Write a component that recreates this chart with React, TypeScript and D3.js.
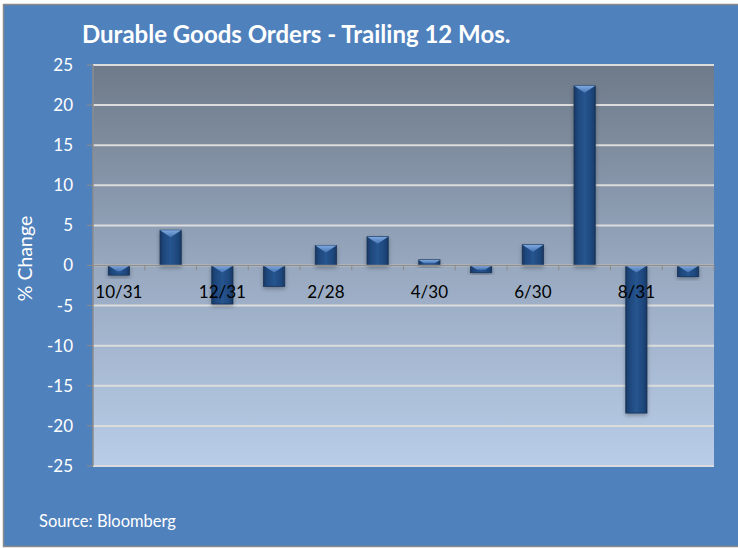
import React from 'react';
import {scaleBand, scaleLinear} from 'd3';

// month-end dates, trailing 12 months
const months = ['10/31', '11/30', '12/31', '1/31', '2/28', '3/31', '4/30', '5/31', '6/30', '7/31', '8/31', '9/30'];
const pctChange = [-1.2, 4.4, -4.8, -2.6, 2.5, 3.6, 0.7, -0.9, 2.6, 22.4, -18.4, -1.4];
const yTicks = [25, 20, 15, 10, 5, 0, -5, -10, -15, -20, -25];
const shownLabels = ['10/31', '12/31', '2/28', '4/30', '6/30', '8/31'];

const width = 738;
const height = 548;
const plot = {left: 93, right: 714, top: 65, bottom: 466};
const font = 'Lato, "Open Sans", sans-serif';

export default function App() {
    const x = scaleBand()
        .domain(months)
        .range([plot.left, plot.right])
        .paddingInner(0.59)
        .paddingOuter(0.295);

    const y = scaleLinear()
        .domain([-25, 25])
        .range([plot.bottom, plot.top]);

    const y0 = y(0);
    const step = x.step();

    return (
        <svg width={width} height={height} style={{position: 'absolute', left: 0, top: 0}}>
            <defs>
                <linearGradient id="plotBg" x1="0" y1="0" x2="0" y2="1">
                    <stop offset="0" stopColor="#6e7a89" />
                    <stop offset="0.5" stopColor="#97a8bf" />
                    <stop offset="1" stopColor="#b9cde8" />
                </linearGradient>
                <linearGradient id="barBody" x1="0" y1="0" x2="1" y2="0">
                    <stop offset="0" stopColor="#183660" />
                    <stop offset="0.15" stopColor="#1e467b" />
                    <stop offset="0.5" stopColor="#26558f" />
                    <stop offset="0.85" stopColor="#1e467b" />
                    <stop offset="1" stopColor="#183660" />
                </linearGradient>
                <linearGradient id="barCap" x1="0" y1="0" x2="0" y2="1">
                    <stop offset="0" stopColor="#7fa9e0" />
                    <stop offset="1" stopColor="#4775b4" />
                </linearGradient>
                <filter id="shadow" x="-30%" y="-30%" width="160%" height="160%">
                    <feDropShadow dx="0" dy="2" stdDeviation="2" floodColor="#000" floodOpacity="0.3" />
                </filter>
            </defs>

            <rect x={0} y={0} width={width} height={height} fill="#ffffff" />
            <rect x={3.5} y={4.5} width={width} height={height - 6} fill="#4f81bd" stroke="#8a8a8a" strokeWidth={1.5} />

            <text x={82} y={43} fill="#fff" fontFamily={font} fontWeight="bold" fontSize={24}>
                Durable Goods Orders - Trailing 12 Mos.
            </text>

            <rect x={plot.left} y={plot.top} width={plot.right - plot.left} height={plot.bottom - plot.top} fill="url(#plotBg)" />

            {yTicks.map(t => (
                <g key={t}>
                    <line x1={plot.left} x2={plot.right} y1={y(t)} y2={y(t)} stroke="#dcdcdc" strokeWidth={2} />
                    <line x1={plot.left - 6} x2={plot.left} y1={y(t)} y2={y(t)} stroke="#8c8c8c" strokeWidth={1} />
                    <text x={73} y={y(t)} dy="0.35em" textAnchor="end" fill="#fff" fontFamily={font} fontSize={17}>
                        {t}
                    </text>
                </g>
            ))}
            <line x1={plot.left} x2={plot.left} y1={plot.top} y2={plot.bottom} stroke="#8c8c8c" strokeWidth={1.5} />

            {months.map((m, i) => {
                const v = pctChange[i];
                const bx = x(m) as number;
                const w = x.bandwidth();
                const top = v >= 0 ? y(v) : y0;
                const h = Math.abs(y(v) - y0);
                const D = w * 0.33;
                const d = Math.min(D, h * 0.6);
                const hw = (w / 2) * (1 - d / D);
                const cx = bx + w / 2;
                const cap = `M${bx},${top}L${bx + w},${top}L${cx + hw},${top + d}L${cx - hw},${top + d}Z`;
                return (
                    <g key={m}>
                        <rect x={bx} y={top} width={w} height={h} fill="url(#barBody)" stroke="#163156" strokeWidth={0.8} filter="url(#shadow)" />
                        <path d={cap} fill="url(#barCap)" />
                    </g>
                );
            })}

            <line x1={plot.left} x2={plot.right} y1={y0} y2={y0} stroke="#8c8c8c" strokeWidth={1.5} />
            {months.map((m, i) => (
                <line key={m} x1={plot.left + step * (i + 1)} x2={plot.left + step * (i + 1)} y1={y0} y2={y0 + 5} stroke="#8c8c8c" strokeWidth={1} />
            ))}

            {shownLabels.map(m => (
                <text key={m} x={(x(m) as number) + x.bandwidth() / 2} y={y0 + 32} textAnchor="middle" fill="#000" fontFamily={font} fontSize={17}>
                    {m}
                </text>
            ))}

            <text transform={`translate(32,${y0 - 7}) rotate(-90)`} textAnchor="middle" fill="#fff" fontFamily={font} fontSize={19.5}>
                % Change
            </text>

            <text x={39} y={527} fill="#fff" fontFamily={font} fontSize={16.5}>
                Source: Bloomberg
            </text>
        </svg>
    );
}
